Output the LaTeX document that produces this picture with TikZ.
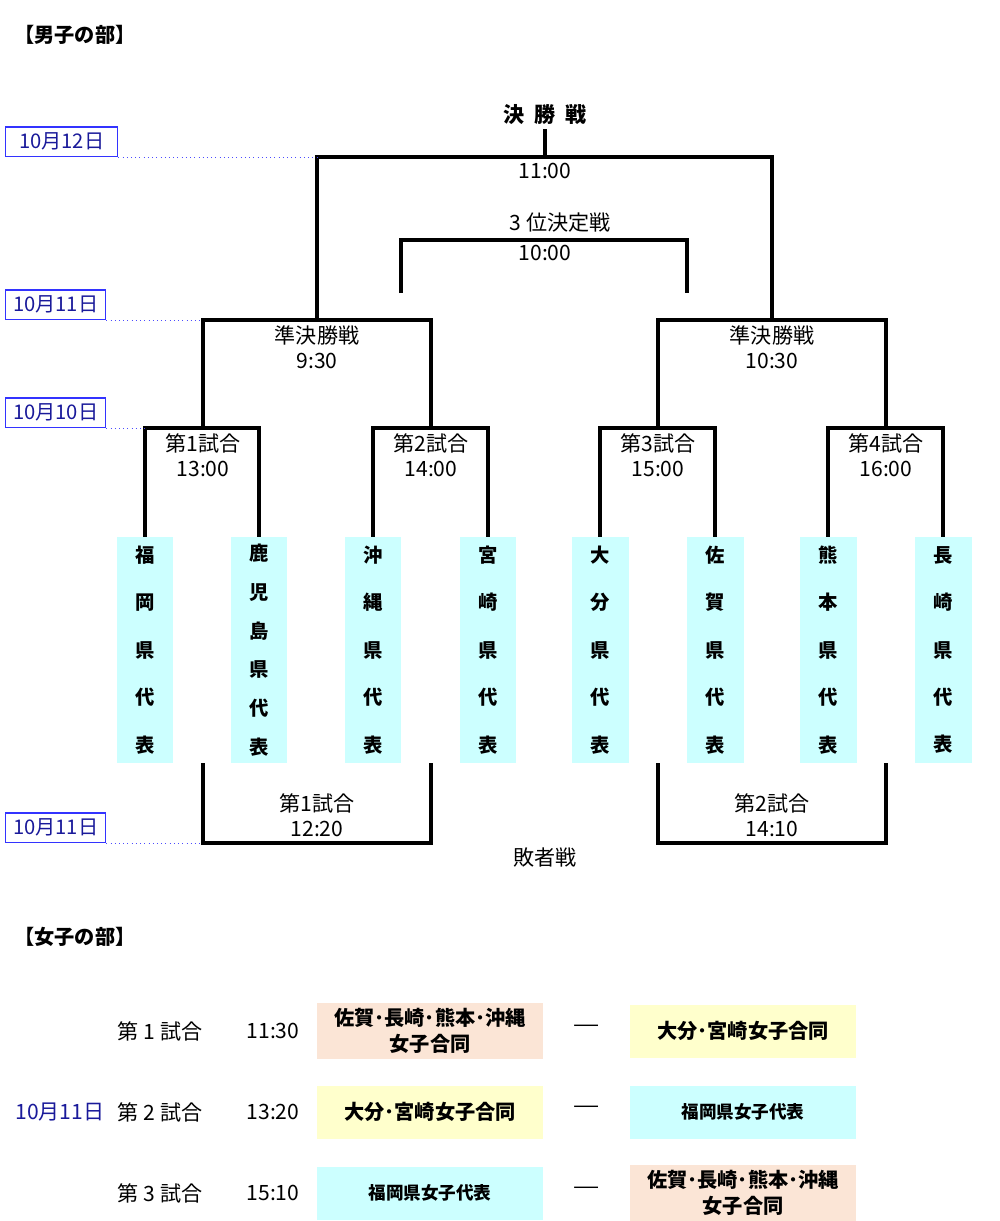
\documentclass[tikz,border=0pt]{standalone}
\usepackage{fontspec}
\setmainfont{Noto Sans CJK JP}
\usetikzlibrary{positioning}
\definecolor{teamcyan}{HTML}{CCFFFF}
\definecolor{peach}{HTML}{FBE5D6}
\definecolor{lemon}{HTML}{FFFFCC}
\definecolor{datenavy}{HTML}{1A1A9A}
\tikzset{
  bracket/.style={line width=2.2pt},
  team/.style={fill=teamcyan, minimum width=1.14cm, minimum height=4.52cm, align=center, font=\fontsize{11}{27}\selectfont\bfseries},
  datebox/.style={draw=blue!80, thick, text=datenavy, anchor=south west, minimum height=0.52cm, inner xsep=3pt, font=\fontsize{11.5}{13}\selectfont},
  dateline/.style={blue!70, dotted, thin},
  lbl/.style={align=center, font=\fontsize{12}{14}\selectfont},
  wbox/.style={minimum width=4.54cm, minimum height=1.06cm, align=center, font=\fontsize{11.5}{14.5}\selectfont\bfseries},
  vsdash/.style={font=\fontsize{16}{16}\selectfont\bfseries},
}
\begin{document}
\begin{tikzpicture}[x=0.02cm, y=-0.02cm, font=\fontsize{12}{14}\selectfont]
    \useasboundingbox (0,0) rectangle (1000,1221);
    % Men
    \node(men) at (8,35) [anchor=west, font=\fontsize{11.5}{13}\selectfont\bfseries] {【男子の部】};
    \node(fin) at (545,115) [font=\fontsize{12}{13}\selectfont\bfseries] {決\ \ 勝\ \ 戦};

    % teams
    \node(t1) at (145,650) [team] {福\\岡\\県\\代\\表};
    \node(t2) at (259,650) [team, font=\fontsize{11}{22}\selectfont\bfseries] {鹿\\児\\島\\県\\代\\表};
    \node(t3) at (373,650) [team] {沖\\縄\\県\\代\\表};
    \node(t4) at (488,650) [team] {宮\\崎\\県\\代\\表};
    \node(t5) at (600,650) [team] {大\\分\\県\\代\\表};
    \node(t6) at (715,650) [team] {佐\\賀\\県\\代\\表};
    \node(t7) at (828,650) [team] {熊\\本\\県\\代\\表};
    \node(t8) at (943,650) [team] {長\\崎\\県\\代\\表};

    % first round
    \coordinate(m1) at (203,428);
    \coordinate(m2) at (431,428);
    \coordinate(m3) at (658,428);
    \coordinate(m4) at (886,428);
    \draw [bracket] (t1.north) |- (m1) -| (t2.north);
    \draw [bracket] (t3.north) |- (m2) -| (t4.north);
    \draw [bracket] (t5.north) |- (m3) -| (t6.north);
    \draw [bracket] (t7.north) |- (m4) -| (t8.north);
    \node(m1l) at (203,455) [lbl] {第1試合\\13:00};
    \node(m2l) at (431,455) [lbl] {第2試合\\14:00};
    \node(m3l) at (658,455) [lbl] {第3試合\\15:00};
    \node(m4l) at (886,455) [lbl] {第4試合\\16:00};

    % semis and final
    \coordinate(s1) at (317,320);
    \coordinate(s2) at (772,320);
    \draw [bracket] (m1) |- (s1) -| (m2);
    \draw [bracket] (m3) |- (s2) -| (m4);
    \node(s1l) at (317,347) [lbl] {準決勝戦\\9:30};
    \node(s2l) at (772,347) [lbl] {準決勝戦\\10:30};
    \coordinate(f) at (545,157);
    \coordinate(ft) at (545,129);
    \draw [bracket] (s1) |- (f) -| (s2);
    \draw [bracket] (ft) -- (f);
    \node(fl) at (545,171) [lbl] {11:00};

    % third place
    \coordinate(q1) at (401,293);
    \coordinate(q) at (545,240);
    \coordinate(q2) at (687,293);
    \draw [bracket] (q1) |- (q) -| (q2);
    \node(ql) at (560,223) [lbl] {3 位決定戦};
    \node(qt) at (545,253) [lbl] {10:00};

    % losers
    \coordinate(l1a) at (203,763);
    \coordinate(l1b) at (431,763);
    \coordinate(l1) at (317,843);
    \coordinate(l2a) at (658,763);
    \coordinate(l2b) at (886,763);
    \coordinate(l2) at (772,843);
    \draw [bracket] (l1a) |- (l1) -| (l1b);
    \draw [bracket] (l2a) |- (l2) -| (l2b);
    \node(l1l) at (317,815) [lbl] {第1試合\\12:20};
    \node(l2l) at (772,815) [lbl] {第2試合\\14:10};
    \node(lost) at (545,857) [lbl] {敗者戦};

    % dates
    \node(d1) at (5,157) [datebox, minimum width=2.24cm] {10月12日};
    \node(d2) at (5,320) [datebox, minimum width=2.0cm] {10月11日};
    \node(d3) at (5,428) [datebox, minimum width=2.0cm] {10月10日};
    \node(d4) at (5,843) [datebox, minimum width=2.0cm] {10月11日};
    \coordinate(e1) at (317,157);
    \coordinate(e2) at (203,320);
    \coordinate(e3) at (145,428);
    \coordinate(e4) at (203,843);
    \draw [dateline] (d1.south east) -- (e1);
    \draw [dateline] (d2.south east) -- (e2);
    \draw [dateline] (d3.south east) -- (e3);
    \draw [dateline] (d4.south east) -- (e4);

    % Women
    \node(women) at (8,937) [anchor=west, font=\fontsize{11.5}{13}\selectfont\bfseries] {【女子の部】};
    \node(wd) at (60,1112) [text=datenavy] {10月11日};

    \node(g1) at (160,1031) {第 1 試合};
    \node(h1) at (273,1031) {11:30};
    \node(a1) at (430,1031) [wbox, fill=peach] {佐賀･長崎･熊本･沖縄\\女子合同};
    \node(x1) at (587,1031) [vsdash] {―};
    \node(b1) at (743,1031) [wbox, fill=lemon] {大分･宮崎女子合同};

    \node(g2) at (160,1112) {第 2 試合};
    \node(h2) at (273,1112) {13:20};
    \node(a2) at (430,1112) [wbox, fill=lemon] {大分･宮崎女子合同};
    \node(x2) at (587,1112) [vsdash] {―};
    \node(b2) at (743,1112) [wbox, fill=teamcyan, font=\fontsize{10}{12}\selectfont\bfseries] {福岡県女子代表};

    \node(g3) at (160,1193) {第 3 試合};
    \node(h3) at (273,1193) {15:10};
    \node(a3) at (430,1193) [wbox, fill=teamcyan, font=\fontsize{10}{12}\selectfont\bfseries] {福岡県女子代表};
    \node(x3) at (587,1193) [vsdash] {―};
    \node(b3) at (743,1193) [wbox, fill=peach] {佐賀･長崎･熊本･沖縄\\女子合同};
\end{tikzpicture}
\end{document}
